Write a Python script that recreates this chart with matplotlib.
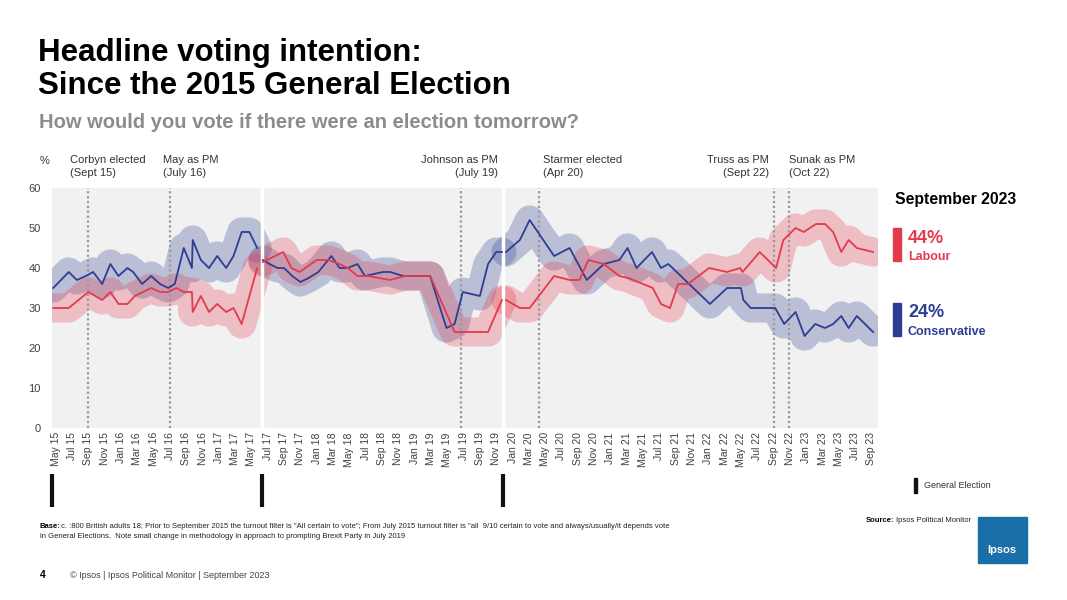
import matplotlib
matplotlib.use('Agg')
from matplotlib import pyplot as plt
from matplotlib.patches import Rectangle

plt.rcParams['font.family'] = ['Liberation Sans', 'DejaVu Sans']

# months counted from May 2015 (0 = May 15)
con1_m = [-0.3, 1.6, 2.6, 3.7, 4.6, 5.7, 6.7, 7.7, 8.8, 9.5, 10.6, 11.7, 12.8, 13.8, 14.6,
          15.7, 16.7, 16.8, 17.8, 18.8, 19.8, 20.9, 21.8, 22.8, 23.75, 24.7]
con1 = [35, 39, 37, 38, 39, 36, 41, 38, 40, 39, 36, 38, 36, 35, 36,
        45, 40, 47, 42, 40, 43, 40, 43, 49, 49, 45]
lab1_m = [-0.3, 1.6, 2.8, 4.0, 5.7, 6.7, 7.7, 8.8, 9.7, 11.7, 12.8, 13.8, 14.8, 15.7,
          16.7, 16.8, 17.8, 18.8, 19.8, 20.9, 21.8, 22.8, 23.75, 24.7]
lab1 = [30, 30, 32, 34, 32, 34, 31, 31, 33, 35, 34, 34, 35, 34,
        34, 29, 33, 29, 31, 29, 30, 26, 33, 40]

con2_m = [25.4, 26.2, 27.2, 28.0, 29.0, 30.0, 31.0, 32.2, 33.8, 34.8, 35.8, 37.0, 37.9,
          40.1, 41.0, 42.6, 45.9, 47.9, 48.9, 49.9, 52.0, 53.0, 54.0, 54.7]
con2 = [42, 41, 40, 40, 38, 36.5, 37.5, 39, 43, 40, 40, 41, 38,
        39, 39, 38, 38, 25, 26, 34, 33, 41, 44, 44]
lab2_m = [25.4, 27.9, 28.9, 29.9, 32.0, 33.4, 34.8, 35.8, 37.0, 38.3, 41.0, 42.8, 45.9,
          48.9, 53.0, 54.7]
lab2 = [41.5, 44, 40, 39, 42, 42, 41, 40, 38, 38, 37, 38, 38, 24, 24, 32]

con3_m = [55.2, 56.9, 58.1, 61.1, 63.0, 65.1, 67.2, 69.1, 70.1, 71.2, 73.1, 74.2, 75.1,
          80.2, 82.3, 84.0, 84.3, 85.2, 88.2, 89.3, 90.7, 91.8, 93.1, 94.3, 95.3, 96.3,
          97.2, 98.2, 100.2]
con3 = [44, 47, 52, 43, 45, 37, 41, 42, 45, 40, 44, 40, 41,
        31, 35, 35, 32, 30, 30, 26, 29, 23, 26, 25, 26, 28,
        25, 28, 24]
lab3_m = [55.2, 56.9, 58.1, 61.1, 63.0, 64.2, 65.3, 67.2, 69.1, 70.2, 73.2, 74.2, 75.3,
          76.3, 77.5, 80.1, 82.3, 83.9, 84.2, 86.3, 88.3, 89.2, 90.7, 91.7, 93.2, 94.3,
          95.3, 96.3, 97.2, 98.2, 100.2]
lab3 = [32, 30, 30, 38, 37, 37, 42, 41, 38, 37.5, 35, 31, 30,
        36, 36, 40, 39, 40, 39, 44, 40, 47, 50, 49, 51, 51,
        49, 44, 47, 45, 44]

tick_labels = ['May 15', 'Jul 15', 'Sep 15', 'Nov 15', 'Jan 16', 'Mar 16', 'May 16', 'Jul 16',
               'Sep 16', 'Nov 16', 'Jan 17', 'Mar 17', 'May 17', 'Jul 17', 'Sep 17', 'Nov 17',
               'Jan 18', 'Mar 18', 'May 18', 'Jul 18', 'Sep 18', 'Nov 18', 'Jan 19', 'Mar 19',
               'May 19', 'Jul 19', 'Sep 19', 'Nov 19', 'Jan 20', 'Mar 20', 'May 20', 'Jul 20',
               'Sep 20', 'Nov 20', 'Jan 21', 'Mar 21', 'May 21', 'Jul 21', 'Sep 21', 'Nov 21',
               'Jan 22', 'Mar 22', 'May 22', 'Jul 22', 'Sep 22', 'Nov 22', 'Jan 23', 'Mar 23',
               'May 23', 'Jul 23', 'Sep 23']
tick_m = list(range(0, 101, 2))

events = ['Corbyn elected\n(Sept 15)', 'May as PM\n(July 16)', 'Johnson as PM\n(July 19)',
          'Starmer elected\n(Apr 20)', 'Truss as PM\n(Sept 22)', 'Sunak as PM\n(Oct 22)']
event_m = [4, 14, 49.7, 59.2, 88, 89.9]
elections_m = [-0.4, 25.3, 54.8]

blue = '#2d3e92'
red = '#e33b4c'

W, H = 1067, 600
fig = plt.figure(figsize=(W / 100, H / 100), dpi=100)
fig.patch.set_facecolor('white')


def px(x, y):
    return x / W, 1 - y / H


ax = fig.add_axes([52 / W, 1 - 428 / H, 826 / W, 240 / H])
ax.set_facecolor('#f1f1f1')
ax.set_xlim(-0.45, 100.8)
ax.set_ylim(0, 60)
for s in ax.spines.values():
    s.set_visible(False)

for xs, ys in [(con1_m, con1), (con2_m, con2), (con3_m, con3)]:
    ax.plot(xs, ys, color=blue, lw=21, alpha=0.28, solid_capstyle='round',
            solid_joinstyle='round', zorder=2)
for xs, ys in [(lab1_m, lab1), (lab2_m, lab2), (lab3_m, lab3)]:
    ax.plot(xs, ys, color=red, lw=21, alpha=0.28, solid_capstyle='round',
            solid_joinstyle='round', zorder=2)
for xs, ys in [(con1_m, con1), (con2_m, con2), (con3_m, con3)]:
    ax.plot(xs, ys, color=blue, lw=1.3, zorder=4)
for xs, ys in [(lab1_m, lab1), (lab2_m, lab2), (lab3_m, lab3)]:
    ax.plot(xs, ys, color=red, lw=1.3, zorder=4)

for m in event_m:
    ax.axvline(m, color='#9a9a9a', lw=1.6, ls=(0, (1, 1.2)), zorder=3)
for m in elections_m[1:]:
    ax.axvline(m, color='white', lw=2.5, zorder=3.5)

ax.set_xticks(tick_m)
ax.set_xticklabels(tick_labels, rotation=90, fontsize=7.5, color='#404040')
ax.set_yticks(range(0, 61, 10))
ax.tick_params(axis='y', labelsize=8, colors='#404040', length=0, pad=8)
ax.tick_params(axis='x', length=0, pad=3)

# general election markers under the axis
trans = ax.get_xaxis_transform()
for m in elections_m:
    ax.plot([m, m], [-0.19, -0.33], color='#111111', lw=3, transform=trans,
            clip_on=False, solid_capstyle='butt')

# event labels
ha_list = ['left', 'left', 'right', 'left', 'right', 'left']
xpix = [70, 163, 498, 543, 769, 789]
for txt, ha, xp in zip(events, ha_list, xpix):
    fig.text(*px(xp, 155), txt, ha=ha, va='top', fontsize=8, color='#333333',
             linespacing=1.35, multialignment=ha)
fig.text(*px(40, 161), '%', ha='left', va='center', fontsize=8, color='#333333')

# titles
fig.text(*px(38, 38), 'Headline voting intention:\nSince the 2015 General Election',
         ha='left', va='top', fontsize=22.5, fontweight='bold', color='black', linespacing=1.15)
fig.text(*px(39, 122), 'How would you vote if there were an election tomorrow?',
         ha='left', va='center', fontsize=14.5, fontweight='bold', color='#8c8c8c')

# right side summary
fig.text(*px(895, 200), 'September 2023', ha='left', va='center', fontsize=11.3,
         fontweight='bold', color='black')
fig.patches.append(Rectangle(px(893, 261), 8 / W, 33 / H, transform=fig.transFigure,
                             color=red, figure=fig))
fig.text(*px(908, 238), '44%', ha='left', va='center', fontsize=13, fontweight='bold', color=red)
fig.text(*px(908, 257), 'Labour', ha='left', va='center', fontsize=9, fontweight='bold', color=red)
fig.patches.append(Rectangle(px(893, 336), 8 / W, 33 / H, transform=fig.transFigure,
                             color=blue, figure=fig))
fig.text(*px(908, 313), '24%', ha='left', va='center', fontsize=13, fontweight='bold', color=blue)
fig.text(*px(908, 332), 'Conservative', ha='left', va='center', fontsize=9, fontweight='bold',
         color=blue)

fig.patches.append(Rectangle(px(914, 493), 3 / W, 15 / H, transform=fig.transFigure,
                             color='#111111', figure=fig))
fig.text(*px(924, 486), 'General Election', ha='left', va='center', fontsize=6.5, color='#333333')

# footer
fig.text(*px(40, 526), 'Base:', ha='left', va='center', fontsize=5.5, fontweight='bold',
         color='black')
fig.text(*px(61, 526), 'c. :800 British adults 18; Prior to September 2015 the turnout filter is '
         '"All certain to vote"; From July 2015 turnout filter is "all  9/10 certain to vote and '
         'always/usually/it depends vote', ha='left', va='center', fontsize=5.5, color='#222222')
fig.text(*px(40, 537), 'in General Elections.  Note small change in methodology in approach to '
         'prompting Brexit Party in July 2019', ha='left', va='center', fontsize=5.5,
         color='#222222')
fig.text(*px(866, 521), 'Source:', ha='left', va='center', fontsize=5.5, fontweight='bold',
         color='black')
fig.text(*px(896, 521), 'Ipsos Political Monitor', ha='left', va='center', fontsize=5.5,
         color='#222222')
fig.text(*px(40, 575), '4', ha='left', va='center', fontsize=7.5, fontweight='bold', color='black')
fig.text(*px(70, 575), '\u00a9 Ipsos | Ipsos Political Monitor | September 2023', ha='left',
         va='center', fontsize=6.5, color='#444444')

# logo
fig.patches.append(Rectangle(px(978, 563), 49 / W, 46 / H, transform=fig.transFigure,
                             color='#1a6fa8', figure=fig))
fig.text(*px(1002, 550), 'Ipsos', ha='center', va='center', fontsize=8, fontweight='bold',
         color='white')

fig.savefig('out.png', dpi=100)
